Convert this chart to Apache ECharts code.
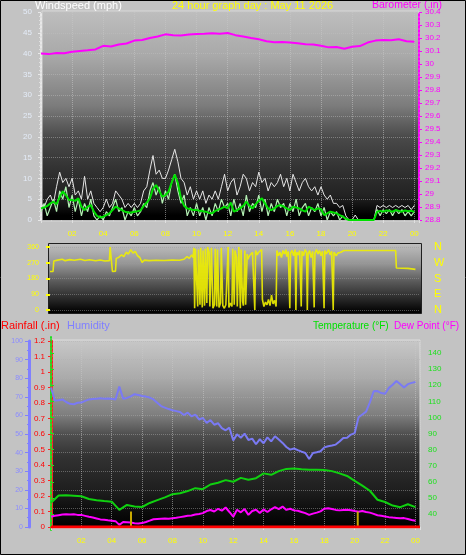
<!DOCTYPE html>
<html><head><meta charset="utf-8">
<script src="https://cdn.jsdelivr.net/npm/echarts@6/dist/echarts.min.js"></script>
<style>html,body{margin:0;padding:0;background:#c3c3c3}#c{width:466px;height:555px}</style>
</head><body><div id="c"></div>
<script>
// ---------------- DATA ----------------
const titleText = '24 hour graph day : May 11 2026';
const windStep = 0.2;   // hours between wind samples
const windGust = [4,3,5,6,4,8,11.5,9,10,8,
10,6,7,5,10.5,5,7,4,3,2,
3,5,3,4,7,6,5,3,4,3,
4,3,4,7,8,12,15.5,11,12,10,
10,12,14.5,17,14,10,9,6,8,5,
7,5,7,4,6,5,7,5,8,11,
7,9,10,6,8,11,10,7,9,8,
11.5,9,10,7,9,8,9,11,8,10,
7,11,9,7,9,10,8,7,8,6,
8,6,5,6,4,4,3,3.5,1,0,
0,1.2,0,0,0,0,0,0,3.5,3,
3.5,3,3.5,3,3.5,3,3.5,3,3.5,2.5,3.5];
const windSpeed = [2,4,1,3,5,2,7,5,8,3,
6,2,5,1,4,2,5,1,0,1,
0,2,1,3,5,2,3,0,2,1,
3,1,2,4,3,7,9,6,8,4,
7,5,9,11,7,4,6,1,3,1,
4,1,3,0,3,1,4,2,5,3,
4,1,5,2,4,1,6,2,4,3,
6,2,5,1,4,2,5,3,4,1,
4,2,5,1,3,4,1,3,2,4,
1,3,0,2,1,2,0,1,0,0,
0,0,0,0,0,0,0,0,2.5,1,
2.5,1.5,2.5,1,2.5,1.5,2.5,1,2,1,2];
const windAvg = [2.8,3.0,3.4,4.0,4.4,3.8,5.5,6.9,6.0,4.8,
4.8,4.6,5.2,3.2,2.4,3.2,3.6,2.0,1.0,0.6,
0.8,1.2,1.6,2.4,3.2,2.8,2.4,2.0,1.8,1.8,
2.0,2.1,2.3,3.4,4.2,5.2,7.5,8.4,7.0,5.6,
6.0,6.8,9.0,10.9,8.9,5.2,3.4,2.8,2.6,2.4,
2.4,2.2,2.1,2.0,1.7,1.6,2.2,2.5,2.8,3.2,
2.8,4.2,2.0,2.4,2.8,3.4,4.4,3.4,2.8,3.8,
4.6,5.2,4.0,2.8,2.4,2.8,3.4,3.6,3.2,2.8,
2.4,3.2,3.0,2.8,2.3,2.0,3.2,2.8,2.4,2.8,
2.6,1.2,1.6,2.0,1.8,1.6,1.2,0.8,0.3,0,
0,0,0,0,0,0,0,0,2.0,2.2,
2.0,2.3,2.2,2.0,2.4,2.2,2.0,2.3,2.1,2.2,2.0];

const halfStep = 0.5;
const barometer = [30.080,30.076,30.085,30.082,30.095,30.100,30.105,30.112,30.140,30.135,
30.150,30.158,30.180,30.185,30.200,30.212,30.228,30.222,30.220,30.226,
30.230,30.232,30.236,30.232,30.238,30.222,30.212,30.200,30.190,30.175,
30.168,30.170,30.165,30.160,30.152,30.150,30.140,30.128,30.130,30.118,
30.132,30.138,30.165,30.180,30.185,30.183,30.190,30.175,30.172];

// wind direction samples: [hour, degrees]
const windDir = [[0,220],[0.2,220],[0.25,280],[0.5,285],[0.8,290],[1.0,282],[1.3,288],[1.6,284],[2.0,290],[2.3,283],[2.6,287],[3.0,281],[3.3,286],[3.6,280],[3.9,282],[3.95,360],[4.05,355],[4.1,220],[4.3,222],[4.35,295],[4.5,300],[4.7,315],[4.85,305],[5.0,330],[5.15,320],[5.3,345],[5.45,325],[5.6,335],[5.75,310],[5.9,300],[6.05,272],[6.2,285],[6.5,282],[7.0,284],[7.5,283],[8.0,285],[8.5,284],[8.8,290],[9.0,305],[9.15,295],[9.3,315],[9.4,300],
[9.45,355],[9.5,10],[9.55,350],[9.65,340],[9.7,20],[9.75,345],[9.85,30],[9.9,355],[10.0,15],[10.05,340],[10.15,25],[10.2,350],[10.3,40],[10.35,360],[10.45,330],[10.5,20],[10.6,355],[10.7,10],[10.8,30],[10.85,350],[10.95,20],[11.0,345],[11.1,15],[11.2,40],[11.25,355],[11.35,25],[11.45,10],[11.55,30],[11.6,20],[11.7,360],[11.75,15],[11.85,40],[11.95,20],[12.0,350],[12.1,30],[12.15,340],[12.25,300],[12.3,20],[12.4,360],[12.5,10],[12.55,345],[12.65,50],[12.7,25],[12.8,340],[12.85,30],[12.95,320],[13.0,290],[13.1,310],[13.2,300],[13.3,330],[13.4,320],[13.45,0],[13.5,340],[13.6,315],[13.7,330],[13.8,340],[13.9,345],[13.95,60],[14.05,20],[14.15,45],[14.25,30],[14.35,60],[14.45,25],[14.55,85],[14.65,35],[14.75,55],[14.85,20],[14.9,340],[15.0,310],
[15.1,330],[15.2,300],[15.3,340],[15.4,320],[15.5,345],[15.55,305],[15.65,335],[15.75,10],[15.8,325],[15.9,340],[16.0,310],[16.1,345],[16.15,0],[16.2,330],[16.3,315],[16.4,340],[16.5,20],[16.55,335],[16.65,310],[16.75,345],[16.85,330],[16.9,0],[16.95,320],[17.05,340],[17.15,300],[17.25,335],[17.35,15],[17.4,325],[17.5,345],[17.6,320],[17.7,340],[17.8,310],[17.9,335],[18.0,10],[18.05,340],[18.15,320],[18.3,345],[18.4,315],[18.5,335],[18.6,0],[18.65,330],[18.8,310],[18.9,325],[19.0,315],[19.1,330],[19.2,320],[19.3,340],[19.4,340],[22.7,340],[22.75,240],[23.5,238],[24.0,232]];
const compass = {0:'N',90:'E',180:'S',270:'W',360:'N'};

const temperature = [47.0,51.5,51.6,51.3,51.0,49.3,48.5,48.0,47.6,42.5,
45.6,44.6,44.3,46.8,48.6,50.3,52.3,52.8,54.2,56.0,
55.4,58.3,59.4,61.0,60.0,62.4,61.3,62.2,65.2,64.3,
66.6,68.0,68.3,67.8,67.5,67.4,67.3,66.6,65.2,63.6,
60.6,57.6,54.4,48.8,47.4,45.2,44.2,46.0,44.2];

const quarterStep = 0.25;
const dewPoint = [38.3,38.8,39.2,39.6,39.8,39.6,39.8,39.4,39.4,38.8,
38.2,37.8,37.2,36.6,36.4,36.0,35.8,35.5,33.2,35.0,
34.8,34.6,34.2,34.0,34.3,35.0,35.8,36.7,36.9,37.0,
37.1,37.0,37.3,37.6,38.0,38.4,38.8,39.0,39.6,40.0,
40.5,41.8,42.4,41.5,43.2,42.0,44.0,41.2,38.3,42.6,
41.0,43.0,39.4,41.8,42.6,40.6,42.8,41.2,42.9,44.2,
43.0,44.6,42.5,43.2,42.2,42.0,41.2,40.5,39.4,40.2,
40.8,41.6,43.2,43.5,43.0,42.5,42.2,42.4,42.6,42.3,
41.8,41.4,41.8,41.2,40.8,40.0,39.2,38.8,38.4,38.0,
37.7,37.5,37.3,37.4,36.8,36.2,35.8];
const humidity = [75.0,68.0,68.2,68.6,67.2,66.2,66.0,66.8,66.9,67.8,
68.6,68.8,69.0,69.2,69.0,69.1,69.0,68.6,75.5,69.0,
69.4,70.2,71.4,71.0,70.4,70.1,69.6,68.6,66.8,65.0,
64.2,63.4,62.8,62.3,61.8,60.2,61.5,59.5,60.4,57.8,
58.6,56.0,57.5,55.0,55.8,53.2,52.0,53.4,46.5,49.8,
48.0,50.2,46.8,47.5,44.5,47.2,45.0,48.2,46.0,48.8,
47.0,45.2,43.0,41.6,42.2,41.3,40.5,39.8,36.6,39.8,
40.2,40.7,42.8,43.4,43.8,44.3,46.0,47.9,48.0,49.7,
50.5,59.0,60.5,62.0,67.0,73.0,73.1,72.0,71.6,74.8,
76.5,78.5,76.8,75.0,76.8,77.5,78.0];
const rainHours = [0, 24.3];
const rainfall = [0, 0];
const sunEvents = [5.27, 20.2];   // sunrise / sunset markers (hours)
const sunMarkHeight = 0.1;

// ---------------- BUILD ----------------
const FONT = '"Liberation Sans", Arial, sans-serif';
const regular = (vals, step) => vals.map((v, i) => [+(i * step).toFixed(3), v]);
const pairs = (hs, vs) => hs.map((h, i) => [h, vs[i]]);
const hourLabel = v => (v > 0 && Math.abs(v / 2 - Math.round(v / 2)) < 1e-6) ? String(Math.round(v) % 24).padStart(2, '0') : '';
const grad = stops => ({type:'linear', x:0, y:0, x2:0, y2:1, colorStops: stops.map(([o,c]) => ({offset:o, color:c}))});
const bg = (x, y, w, h, stops, stroke) => ({type:'rect', z:-10, silent:true, shape:{x, y, width:w, height:h},
  style:{fill: grad(stops), stroke: stroke || null, lineWidth: 1}});
const txt = (x, y, t, color, size) => ({type:'text', x, y, z:10, silent:true,
  style:{text:t, fill:color, font:(size || 11) + 'px ' + FONT, textVerticalAlign:'top'}});

const line = (xi, yi, data, color, width, extra) => Object.assign({
  type:'line', xAxisIndex:xi, yAxisIndex:yi, data, showSymbol:false, symbol:'none',
  lineStyle:{color, width}, emphasis:{disabled:true}, silent:true, animation:false
}, extra || {});

const xBase = (gi, show) => ({
  type:'value', gridIndex:gi, min:0, max:24.3, interval:2,
  axisLine:{show:show, lineStyle:{color:'#bdbdbd'}},
  axisTick:{show:show, length:3, lineStyle:{color:'#e0e0e0'}},
  minorTick:{show:show, splitNumber:3, length:2, lineStyle:{color:'#d0d0d0'}},
  axisLabel:{show:show, color:'#ffff00', fontSize:8, fontFamily:FONT, margin:10, formatter:hourLabel},
  splitLine:{show:show, lineStyle:{color:'#c8c8c8', type:'dotted', opacity:0.55}}
});

const sunSeries = sunEvents.map(h => line(2, 4, [[h, 0], [h, sunMarkHeight]], '#c8a800', 2, {z:4}));

const option = {
  animation:false,
  backgroundColor:'#c3c3c3',
  grid:[
    {left:41, right:47, top:12, bottom:335},
    {left:50, right:46, top:247, bottom:245},
    {left:51, right:46, top:341, bottom:28},
    {left:51, right:46, top:337, bottom:25}
  ],
  xAxis:[
    xBase(0, true),
    Object.assign(xBase(1, false), {show:false}),
    xBase(2, true),
    Object.assign(xBase(3, false), {show:false})
  ],
  yAxis:[
    {type:'value', gridIndex:0, position:'left', min:0, max:50, interval:5,
     axisLine:{show:true, lineStyle:{color:'#e8e8e8', type:'dotted', width:2}},
     axisTick:{show:true, length:3, lineStyle:{color:'#e8e8e8'}},
     minorTick:{show:true, splitNumber:5, length:2, lineStyle:{color:'#e0e0e0'}},
     axisLabel:{color:'#e4ecf8', fontSize:8, fontFamily:FONT, margin:9},
     splitLine:{show:true, lineStyle:{color:'#c0c0c0', type:'dotted', opacity:0.45}}},
    {type:'value', gridIndex:0, position:'right', min:28.8, max:30.4, interval:0.1,
     axisLine:{show:true, lineStyle:{color:'#ff00ff', type:[2,2], width:2}},
     axisTick:{show:true, length:3, lineStyle:{color:'#ff00ff'}},
     axisLabel:{color:'#ff00ff', fontSize:8, fontFamily:FONT, margin:6},
     splitLine:{show:false}},
    {type:'value', gridIndex:1, position:'left', min:0, max:360, interval:90,
     axisLine:{show:false},
     axisTick:{show:true, length:4, lineStyle:{color:'#ffff00', width:2}},
     axisLabel:{color:'#ffff00', fontSize:7, fontFamily:FONT, margin:11},
     splitLine:{show:true, lineStyle:{color:'#9a9a9a', type:'dotted', opacity:0.5}}},
    {type:'value', gridIndex:1, position:'right', min:0, max:360, interval:90,
     axisLine:{show:false}, axisTick:{show:false},
     axisLabel:{color:'#ffff00', fontSize:11, fontFamily:FONT, margin:14, formatter:v => compass[v] || ''},
     splitLine:{show:false}},
    {type:'value', gridIndex:2, position:'left', min:0, max:1.2, interval:0.1,
     axisLine:{show:true, lineStyle:{color:'#ff2020', type:[2,2], width:3}},
     axisTick:{show:true, length:3, lineStyle:{color:'#ff2020'}},
     axisLabel:{color:'#ff0000', fontSize:8, fontFamily:FONT, margin:6},
     splitLine:{show:false}},
    {type:'value', gridIndex:2, position:'left', offset:22, min:0, max:100, interval:10,
     axisLine:{show:true, lineStyle:{color:'#8080ff', width:3}},
     axisTick:{show:true, length:4, lineStyle:{color:'#8080ff'}},
     minorTick:{show:true, splitNumber:2, length:2, lineStyle:{color:'#8080ff'}},
     axisLabel:{color:'#8c8cff', fontSize:7, fontFamily:FONT, margin:6},
     splitLine:{show:true, lineStyle:{color:'#b0b0b0', type:'dotted', opacity:0.45}}},
    {type:'value', gridIndex:3, position:'right', min:30, max:150, interval:10,
     axisLine:{show:true, lineStyle:{color:'#20e020', type:[2,2], width:2}},
     axisTick:{show:true, length:3, lineStyle:{color:'#20e020'}},
     axisLabel:{color:'#20e020', fontSize:8, fontFamily:FONT, margin:8, showMinLabel:false, showMaxLabel:false},
     splitLine:{show:false}}
  ],
  graphic:[
    bg(42, 11, 377, 210, [[0,'#bebebe'],[0.22,'#a8a8a8'],[0.45,'#7c7c7c'],[0.6,'#4a4a4a'],[0.75,'#323232'],[0.88,'#222222'],[0.94,'#0c0c0c'],[0.97,'#000'],[1,'#000']], '#d8d8d8'),
    bg(48.5, 243.5, 373, 70, [[0,'#c0c0c0'],[0.3,'#949494'],[0.55,'#585858'],[0.8,'#262626'],[0.95,'#060606'],[1,'#000']], '#202020'),
    bg(52, 340, 368, 188, [[0,'#c8c8c8'],[0.2,'#ababab'],[0.4,'#7e7e7e'],[0.5,'#505050'],[0.62,'#323232'],[0.8,'#1e1e1e'],[0.92,'#0a0a0a'],[1,'#000']], '#dcdcdc'),
    {type:'rect', z:20, silent:true, shape:{x:0.5, y:0.5, width:465, height:554}, style:{fill:null, stroke:'#000', lineWidth:1}},
    txt(35, 0, 'Windspeed (mph)', '#ffffff', 11),
    txt(172, 0, titleText, '#ffff00', 11),
    txt(372, 0, 'Barometer (.in)', '#ff00ff', 10.5),
    txt(1, 320, 'Rainfall (.in)', '#ff0000', 11),
    txt(67, 320, 'Humidity', '#8080ff', 11),
    txt(313, 321, 'Temperature (°F)', '#00e000', 10),
    txt(394, 321, 'Dew Point (°F)', '#ff00ff', 10)
  ],
  series:[
    line(0, 0, regular(windGust, windStep), '#e6e6e6', 1),
    line(0, 0, regular(windSpeed, windStep), '#b4f0b4', 1.2),
    line(0, 0, regular(windAvg, windStep), '#00e000', 2),
    line(0, 1, regular(barometer, halfStep), '#ff00ff', 2),
    line(1, 2, windDir, '#f0f000', 1.6, {lineStyle:{color:'#f0f000', width:1.6, opacity:0.9}}),
    line(2, 5, regular(humidity, quarterStep), '#7a7af4', 2),
    line(2, 4, pairs(rainHours, rainfall), '#ff0000', 3, {z:5}),
    ...sunSeries,
    line(3, 6, regular(temperature, halfStep), '#10d010', 2),
    line(3, 6, regular(dewPoint, quarterStep), '#ff00ff', 2)
  ]
};
const chart = echarts.init(document.getElementById('c'), null, {renderer:'canvas'});
chart.setOption(option);
</script></body></html>
